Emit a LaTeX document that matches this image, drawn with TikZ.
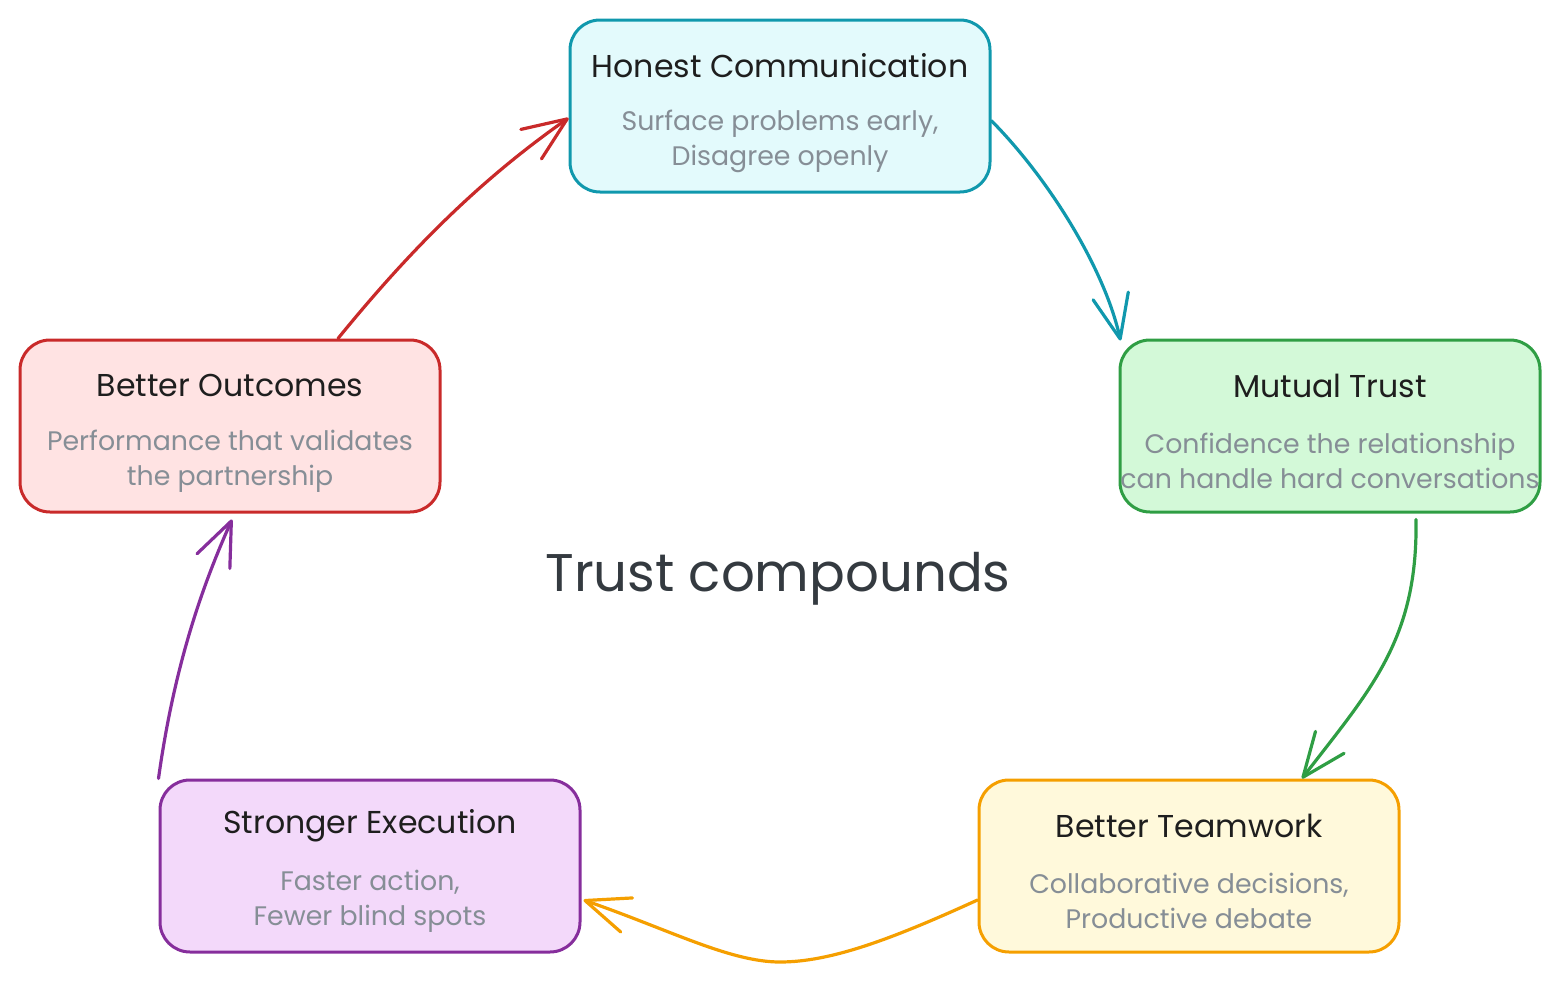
\documentclass[tikz,border=0pt]{standalone}
\usepackage{fontspec}
\setmainfont{Poppins}
\usetikzlibrary{arrows.meta,calc}
\definecolor{cyS}{HTML}{1098AD}\definecolor{cyF}{HTML}{E3FAFC}
\definecolor{grS}{HTML}{2F9E44}\definecolor{grF}{HTML}{D3F9D8}
\definecolor{orS}{HTML}{F59F00}\definecolor{orF}{HTML}{FFF9DB}
\definecolor{puS}{HTML}{862E9C}\definecolor{puF}{HTML}{F3D9FA}
\definecolor{reS}{HTML}{C92A2A}\definecolor{reF}{HTML}{FFE3E3}
\definecolor{titC}{HTML}{1E1E1E}\definecolor{subC}{HTML}{868E96}
\definecolor{cenC}{HTML}{343A40}
\newcommand\cyclebox[6]{%
  \node[cbox, draw=#3, fill=#4] (#1) at #2 {};
  \node[titletext] (#1-t) at ([yshift=20pt]#1.center) {#5};
  \node[subtext] (#1-s) at ([yshift=-17.5pt]#1.center) {#6};
}
\begin{document}
\begin{tikzpicture}[x=0.5pt,y=-0.5pt,
  cbox/.style={rectangle, rounded corners=15pt, line width=1.5pt,
    minimum width=210pt, minimum height=86pt, inner sep=0pt},
  titletext/.style={font=\fontsize{15.8}{18}\selectfont, text=titC, inner sep=0pt},
  subtext/.style={font=\fontsize{13.4}{17.5}\selectfont, text=subC, align=center, inner sep=0pt},
  conn/.style={line width=1.6pt, line cap=round,
    -{Straight Barb[length=22pt,width=18pt,round]}}]
\useasboundingbox (0,0) rectangle (1560,985);

\cyclebox{hc}{(780,106)}{cyS}{cyF}{Honest Communication}{Surface problems early,\\Disagree openly}
\cyclebox{mt}{(1330,426)}{grS}{grF}{Mutual Trust}{Confidence the relationship\\can handle hard conversations}
\cyclebox{bt}{(1189,866)}{orS}{orF}{Better Teamwork}{Collaborative decisions,\\Productive debate}
\cyclebox{se}{(370,866)}{puS}{puF}{Stronger Execution}{Faster action,\\Fewer blind spots}
\cyclebox{bo}{(230,426)}{reS}{reF}{Better Outcomes}{Performance that validates\\the partnership}

\node[font=\fontsize{26.5}{31}\selectfont, text=cenC] (center) at (778,579) {Trust compounds};

\draw[conn, draw=cyS] (hc.-4) .. controls (1050,180) and (1105,270) .. ([xshift=1pt,yshift=-1pt]mt.north west);
\draw[conn, draw=grS] ([xshift=43pt,yshift=-3pt]mt.south) .. controls (1418,640) and (1370,690) .. ([xshift=56.5pt]bt.north);
\draw[conn, draw=orS] ([yshift=-17pt]bt.west) .. controls (890,940) and (830,962) .. (780,962) .. controls (730,962) and (670,930) .. ([xshift=1pt,yshift=-17pt]se.east);
\draw[conn, draw=puS] (se.north west) .. controls (175,660) and (205,580) .. ([xshift=1pt,yshift=-3pt]bo.south);
\draw[conn, draw=reS] ([xshift=54pt]bo.north) .. controls (410,250) and (480,180) .. ([yshift=-6pt]hc.west);
\end{tikzpicture}
\end{document}
